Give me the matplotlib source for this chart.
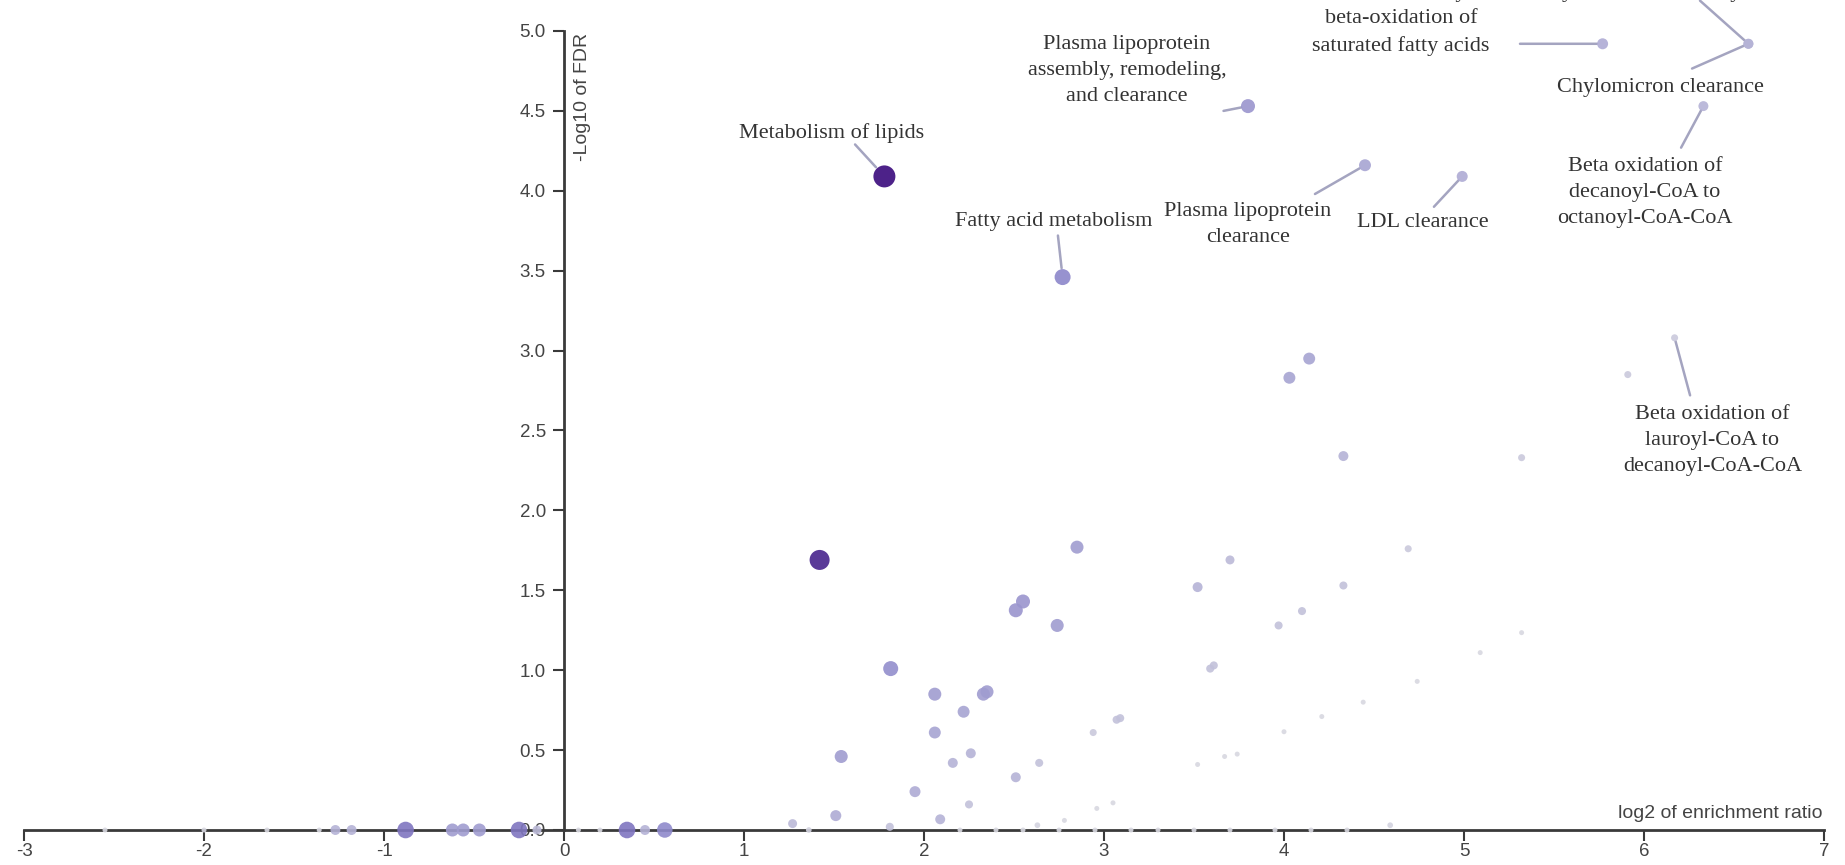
import numpy as np
import matplotlib
matplotlib.use("Agg")
import matplotlib.pyplot as plt
from matplotlib.colors import LinearSegmentedColormap

plt.rcParams['font.family'] = ['Liberation Sans', 'DejaVu Sans']
plt.rcParams['axes.unicode_minus'] = False

# labelled pathways (log2 enrichment ratio, -log10 FDR, category size)
label_names = [
    "Metabolism of lipids",
    "Fatty acid metabolism",
    "Plasma lipoprotein\nassembly, remodeling,\nand clearance",
    "Plasma lipoprotein\nclearance",
    "LDL clearance",
    "Mitochondrial fatty acid\nbeta-oxidation of\nsaturated fatty acids",
    "Chylomicron assembly",
    "Chylomicron clearance",
    "Beta oxidation of\ndecanoyl-CoA to\noctanoyl-CoA-CoA",
    "Beta oxidation of\nlauroyl-CoA to\ndecanoyl-CoA-CoA",
]
label_x = [1.78, 2.77, 3.80, 4.45, 4.99, 5.77, 6.58, 6.58, 6.33, 6.17]
label_y = [4.09, 3.46, 4.53, 4.16, 4.09, 4.92, 4.92, 4.92, 4.53, 3.08]
label_size = [800, 170, 102, 60, 47, 47, 36, 36, 36, 17]

# other pathways
other_x = [1.42, 1.815, 1.54, 2.85, 3.70, 4.69, 3.52, 4.33, 2.55, 2.51,
           2.74, 4.10, 3.97, 5.32, 5.09, 4.74, 4.44, 4.21, 4.00, 3.61,
           3.59, 2.06, 2.35, 2.33, 2.22, 2.06, 3.09, 3.07, 2.94, 2.26,
           2.16, 2.64, 2.51, 3.52, 3.67, 3.74, 1.95, 2.25, 2.96, 3.05,
           2.09, 2.78, 4.14, 4.03, 5.91, 4.33, 5.32, 1.51, 1.27, 1.36,
           1.81, 2.63, 4.59,
           -0.88, -0.25, 0.35, 0.56, -0.62, -0.56, -0.47, -1.27, -1.18, 0.45,
           -0.15, -2.55, -2.0, -1.65, -1.36, 0.08, 0.2,
           2.2, 2.4, 2.55, 2.75, 2.95, 3.15, 3.3, 3.5, 3.7, 3.95, 4.15, 4.35]
other_y = [1.69, 1.01, 0.46, 1.77, 1.69, 1.76, 1.52, 1.53, 1.43, 1.375,
           1.28, 1.37, 1.28, 1.235, 1.11, 0.93, 0.80, 0.71, 0.615, 1.03,
           1.01, 0.85, 0.865, 0.85, 0.74, 0.61, 0.70, 0.69, 0.61, 0.48,
           0.42, 0.42, 0.33, 0.41, 0.46, 0.475, 0.24, 0.16, 0.135, 0.17,
           0.067, 0.06, 2.95, 2.83, 2.85, 2.34, 2.33, 0.09, 0.04, 0.0,
           0.02, 0.03, 0.03,
           0, 0, 0, 0, 0, 0, 0, 0, 0, 0,
           0, 0, 0, 0, 0, 0, 0,
           0, 0, 0, 0, 0, 0, 0, 0, 0, 0, 0, 0]
other_size = [480, 132, 79, 79, 28, 17, 36, 22, 102, 102,
              79, 22, 22, 10, 10, 10, 10, 10, 10, 22,
              22, 79, 79, 79, 60, 60, 22, 22, 17, 36,
              36, 22, 36, 10, 10, 10, 47, 22, 10, 10,
              36, 10, 60, 60, 17, 36, 17, 47, 28, 12,
              22, 12, 12,
              200, 200, 200, 150, 79, 79, 79, 36, 36, 36,
              28, 10, 10, 10, 10, 10, 10,
              10, 10, 10, 10, 10, 10, 10, 10, 10, 10, 10, 10]

xs = np.array(label_x + other_x)
ys = np.array(label_y + other_y)
sz = np.array(label_size + other_size, dtype=float)

# size/colour scale from category size
t = np.clip((np.log10(sz) - 1) / np.log10(80), 0, 1)
diam_px = 5 + 17 * t
areas = (diam_px * 0.72) ** 2
cmap = LinearSegmentedColormap.from_list(
    "lav", [(0, "#d8d8e0"), (0.35, "#aeabd4"), (0.65, "#8c86ca"),
            (0.85, "#4c2c92"), (1.0, "#3a0a7c")])
order = np.argsort(sz)

fig = plt.figure(figsize=(18.45, 8.65), dpi=100)
ax = fig.add_axes([24 / 1845, 35 / 865, 1800 / 1845, 799 / 865])

ax.scatter(xs[order], ys[order], s=areas[order], c=cmap(t[order]),
           edgecolors='none', alpha=0.9, clip_on=False, zorder=3)

ax.set_xlim(-3, 7)
ax.set_ylim(0, 5)
ax.spines['left'].set_position(('data', 0))
ax.spines['bottom'].set_position(('data', 0))
ax.spines['right'].set_visible(False)
ax.spines['top'].set_visible(False)
for s in ['left', 'bottom']:
    ax.spines[s].set_linewidth(2)
    ax.spines[s].set_color('#3a3a3a')
ax.set_xticks(range(-3, 8))
ax.set_yticks(np.arange(0, 5.01, 0.5))
ax.set_yticklabels([f"{v:.1f}" for v in np.arange(0, 5.01, 0.5)])
ax.tick_params(axis='both', length=8, width=1.5, color='#3a3a3a',
               labelsize=13.5, labelcolor='#444444', direction='out')
ax.tick_params(axis='x', pad=1)
ax.tick_params(axis='y', pad=5)
ax.patch.set_visible(False)

ax.text(0.1, 4.99, "-Log10 of FDR", rotation=90, ha='center', va='top',
        fontsize=14, color='#444444')
ax.text(6.99, 0.075, "log2 of enrichment ratio", ha='right', va='baseline',
        fontsize=14, color='#444444')

# label text positions and leader-line start points (data units)
text_pos = [(1.489, 4.36), (2.722, 3.81), (3.128, 4.75), (3.80, 3.79),
            (4.772, 3.80), (4.65, 5.075), (5.97, 5.24), (6.089, 4.644),
            (6.006, 3.99), (6.38, 2.44)]
line_start = [(1.617, 4.29), (2.744, 3.72), (3.664, 4.50), (4.172, 3.98),
              (4.833, 3.90), (5.311, 4.92), (6.311, 5.19), (6.267, 4.765),
              (6.206, 4.27), (6.256, 2.72)]
shrink = [9, 6.5, 5, 4.5, 4, 4, 3.5, 3.5, 3.5, 2.5]

for i, name in enumerate(label_names):
    ax.text(*text_pos[i], name, ha='center', va='center',
            multialignment='center', fontsize=16, color='#333333',
            family=['Liberation Serif', 'DejaVu Serif'], linespacing=1.5,
            zorder=4, clip_on=False)
    ax.annotate('', xy=(label_x[i], label_y[i]), xytext=line_start[i],
                arrowprops=dict(arrowstyle='-', color='#a4a4c0', lw=1.8,
                                shrinkA=0, shrinkB=shrink[i]),
                annotation_clip=False, zorder=2)

fig.savefig("out.png", dpi=100)
